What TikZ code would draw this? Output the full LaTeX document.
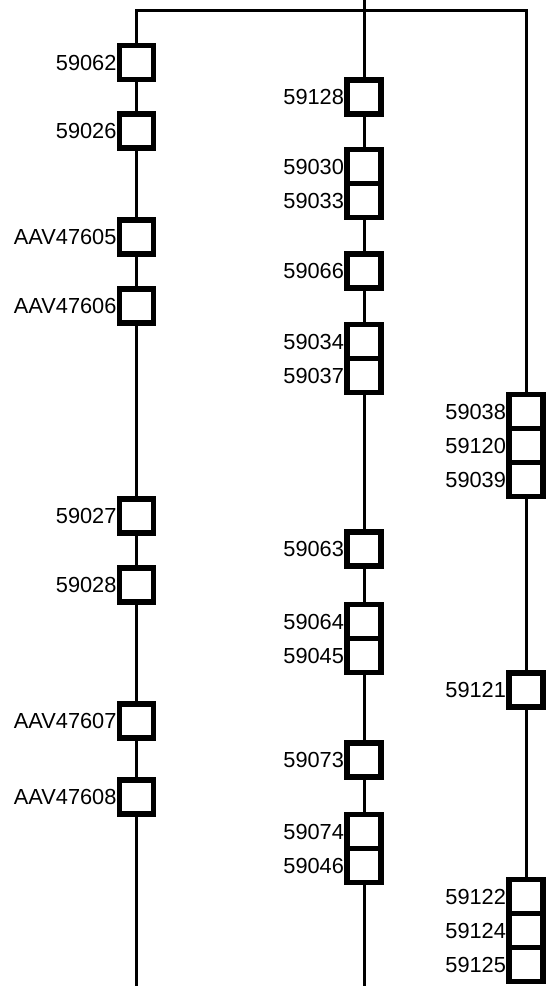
\documentclass[tikz,border=0pt]{standalone}
\usepackage{fontspec}
\setmainfont{Liberation Sans}
\usetikzlibrary{positioning}

\begin{document}
\begin{tikzpicture}[x=1pt, y=-1pt,
      stn/.style={draw=black, line width=5.6pt, fill=white, minimum size=34pt,
                  inner sep=0pt, outer sep=0pt},
      lbl/.style={font=\fontsize{21.8}{24}\selectfont, inner sep=0pt, outer sep=0pt},
      wire/.style={draw=black, line width=3pt}]

    \useasboundingbox (0,0) rectangle (547,986);

    \coordinate (topL) at (136.5,10);
    \coordinate (topR) at (526,10);
    \coordinate (topM) at (364,0);
    \coordinate (botL) at (136.5,986);
    \coordinate (botM) at (364,986);

    % left branch
    \node[stn] (b59062) at (136.5,62.5) {};
    \node[stn] (b59026) at (136.5,131) {};
    \node[stn] (bAAV47605) at (136.5,237) {};
    \node[stn] (bAAV47606) at (136.5,306) {};
    \node[stn] (b59027) at (136.5,516) {};
    \node[stn] (b59028) at (136.5,585) {};
    \node[stn] (bAAV47607) at (136.5,721) {};
    \node[stn] (bAAV47608) at (136.5,797) {};

    % middle branch
    \node[stn] (b59128) at (364,97) {};
    \node[stn] (b59030) at (364,166.5) {};
    \node[stn, below=0pt of b59030] (b59033) {};
    \node[stn] (b59066) at (364,271) {};
    \node[stn] (b59034) at (364,341.5) {};
    \node[stn, below=0pt of b59034] (b59037) {};
    \node[stn] (b59063) at (364,549) {};
    \node[stn] (b59064) at (364,621.5) {};
    \node[stn, below=0pt of b59064] (b59045) {};
    \node[stn] (b59073) at (364,760) {};
    \node[stn] (b59074) at (364,831.5) {};
    \node[stn, below=0pt of b59074] (b59046) {};

    % right branch
    \node[stn] (b59038) at (526,411.5) {};
    \node[stn, below=0pt of b59038] (b59120) {};
    \node[stn, below=0pt of b59120] (b59039) {};
    \node[stn] (b59121) at (526,690) {};
    \node[stn] (b59122) at (526,896.5) {};
    \node[stn, below=0pt of b59122] (b59124) {};
    \node[stn, below=0pt of b59124] (b59125) {};

    % wires
    \draw[wire, line join=miter] (b59062) -- (topL) -- (topR) -- (b59038);
    \draw[wire] (topM) -- (b59128);
    \draw[wire] (b59062) -- (b59026) -- (bAAV47605) -- (bAAV47606) -- (b59027)
      -- (b59028) -- (bAAV47607) -- (bAAV47608) -- (botL);
    \draw[wire] (b59128) -- (b59030);
    \draw[wire] (b59033) -- (b59066) -- (b59034);
    \draw[wire] (b59037) -- (b59063) -- (b59064);
    \draw[wire] (b59045) -- (b59073) -- (b59074);
    \draw[wire] (b59046) -- (botM);
    \draw[wire] (b59039) -- (b59121) -- (b59122);

    % labels
    \node[lbl, left=3pt of b59062] (t59062) {59062};
    \node[lbl, left=3pt of b59026] (t59026) {59026};
    \node[lbl, left=3pt of bAAV47605] (tAAV47605) {AAV47605};
    \node[lbl, left=3pt of bAAV47606] (tAAV47606) {AAV47606};
    \node[lbl, left=3pt of b59027] (t59027) {59027};
    \node[lbl, left=3pt of b59028] (t59028) {59028};
    \node[lbl, left=3pt of bAAV47607] (tAAV47607) {AAV47607};
    \node[lbl, left=3pt of bAAV47608] (tAAV47608) {AAV47608};

    \node[lbl, left=3pt of b59128] (t59128) {59128};
    \node[lbl, left=3pt of b59030] (t59030) {59030};
    \node[lbl, left=3pt of b59033] (t59033) {59033};
    \node[lbl, left=3pt of b59066] (t59066) {59066};
    \node[lbl, left=3pt of b59034] (t59034) {59034};
    \node[lbl, left=3pt of b59037] (t59037) {59037};
    \node[lbl, left=3pt of b59063] (t59063) {59063};
    \node[lbl, left=3pt of b59064] (t59064) {59064};
    \node[lbl, left=3pt of b59045] (t59045) {59045};
    \node[lbl, left=3pt of b59073] (t59073) {59073};
    \node[lbl, left=3pt of b59074] (t59074) {59074};
    \node[lbl, left=3pt of b59046] (t59046) {59046};

    \node[lbl, left=3pt of b59038] (t59038) {59038};
    \node[lbl, left=3pt of b59120] (t59120) {59120};
    \node[lbl, left=3pt of b59039] (t59039) {59039};
    \node[lbl, left=3pt of b59121] (t59121) {59121};
    \node[lbl, left=3pt of b59122] (t59122) {59122};
    \node[lbl, left=3pt of b59124] (t59124) {59124};
    \node[lbl, left=3pt of b59125] (t59125) {59125};
  \end{tikzpicture}
\end{document}
